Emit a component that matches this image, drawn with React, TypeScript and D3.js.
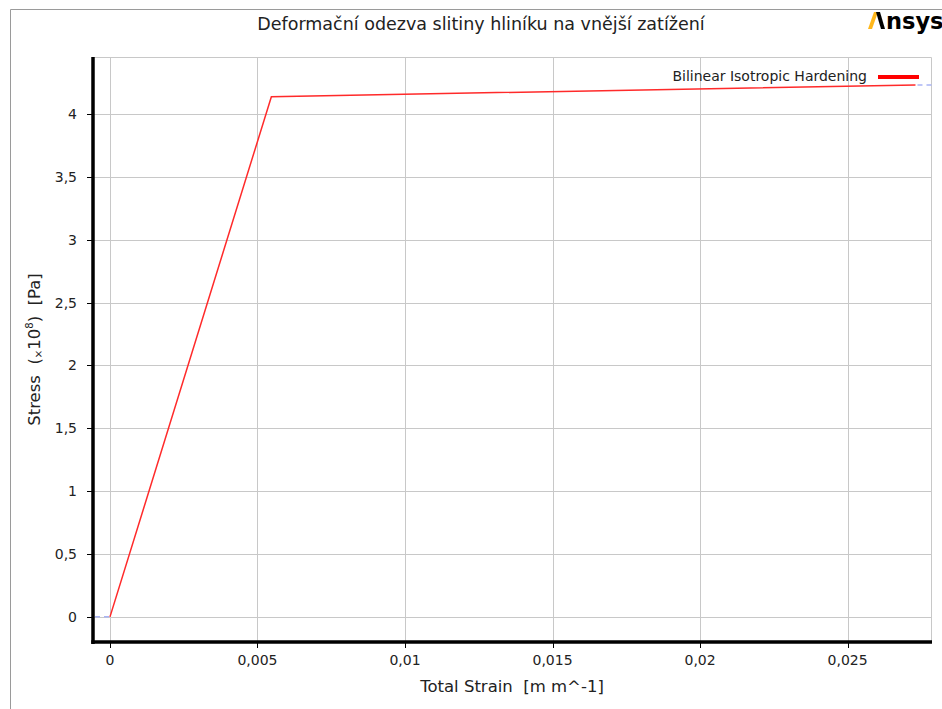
import { useEffect, useRef } from 'react'
import * as d3 from 'd3'

// stress-strain curve (stress in units of 1e8 Pa)
const strain = [0, 0.00547, 0.0273]
const stress = [0, 4.138, 4.232]

const xTicks = [0, 0.005, 0.01, 0.015, 0.02, 0.025]
const yTicks = [0, 0.5, 1, 1.5, 2, 2.5, 3, 3.5, 4]

const W = 942
const H = 709
const PLOT = { left: 93, right: 932, top: 57, bottom: 642 }
const FONT = 'DejaVu Sans, sans-serif'

const fmt = (v: number) => String(v).replace('.', ',')

export default function App() {
  const svgRef = useRef<SVGSVGElement>(null)

  useEffect(() => {
    const svg = d3.select(svgRef.current)
    svg.selectAll('*').remove()

    const x = d3.scaleLinear().domain([-0.000575, 0.02786]).range([PLOT.left, PLOT.right])
    const y = d3.scaleLinear().domain([-0.2, 4.454]).range([PLOT.bottom, PLOT.top])

    svg.append('rect').attr('width', W).attr('height', H).attr('fill', '#fff')

    // outer frame
    svg.append('path').attr('d', `M10.5,${H} V9.5 H${W}`).attr('fill', 'none').attr('stroke', '#9a9a9a')

    // title
    svg.append('text')
      .attr('x', 481).attr('y', 30)
      .attr('text-anchor', 'middle').attr('font-family', FONT).attr('font-size', 17.5).attr('fill', '#222')
      .text('Deformační odezva slitiny hliníku na vnější zatížení')

    // logo
    const logo = svg.append('g')
    logo.append('path').attr('d', 'M868,29 L874,12 L878,12 L872,29 Z').attr('fill', '#ffb71b')
    logo.append('path').attr('d', 'M876,12 L880,12 L885,29 L881,29 Z').attr('fill', '#000')
    logo.append('text')
      .attr('x', 886).attr('y', 29)
      .attr('font-family', FONT).attr('font-weight', 'bold').attr('font-size', 22.5).attr('fill', '#000')
      .text('nsys')

    // grid
    const grid = svg.append('g').attr('stroke', '#c8c8c8').attr('stroke-width', 1)
    xTicks.forEach(t => {
      grid.append('line').attr('x1', Math.round(x(t)) + 0.5).attr('x2', Math.round(x(t)) + 0.5)
        .attr('y1', PLOT.top).attr('y2', PLOT.bottom)
    })
    yTicks.forEach(t => {
      grid.append('line').attr('y1', Math.round(y(t)) + 0.5).attr('y2', Math.round(y(t)) + 0.5)
        .attr('x1', PLOT.left).attr('x2', PLOT.right)
    })
    grid.append('path').attr('fill', 'none')
      .attr('d', `M${PLOT.left},${PLOT.top + 0.5} H${PLOT.right - 0.5} V${PLOT.bottom}`)

    // extrapolation dashes
    const ext = svg.append('g').attr('stroke', '#a9b4f5').attr('stroke-width', 1.5).attr('stroke-dasharray', '5 4')
    ext.append('line').attr('x1', PLOT.left + 2).attr('x2', x(strain[0]))
      .attr('y1', y(stress[0])).attr('y2', y(stress[0]))
    const last = strain.length - 1
    ext.append('line').attr('x1', x(strain[last]) + 2).attr('x2', PLOT.right)
      .attr('y1', y(stress[last])).attr('y2', y(stress[last]))

    // curve
    const line = d3.line<number>().x((d, i) => x(strain[i])).y(d => y(d))
    svg.append('path').datum(stress)
      .attr('fill', 'none').attr('stroke', '#ff2a2a').attr('stroke-width', 1.5)
      .attr('d', line)

    // axes
    svg.append('line').attr('x1', PLOT.left).attr('x2', PLOT.left)
      .attr('y1', PLOT.top).attr('y2', PLOT.bottom + 2)
      .attr('stroke', '#000').attr('stroke-width', 3.5)
    svg.append('line').attr('x1', PLOT.left - 1.75).attr('x2', PLOT.right)
      .attr('y1', PLOT.bottom).attr('y2', PLOT.bottom)
      .attr('stroke', '#000').attr('stroke-width', 3.5)

    const ticks = svg.append('g').attr('stroke', '#000').attr('stroke-width', 1)
    yTicks.forEach(t => {
      ticks.append('line').attr('x1', PLOT.left - 6).attr('x2', PLOT.left)
        .attr('y1', Math.round(y(t)) + 0.5).attr('y2', Math.round(y(t)) + 0.5)
    })
    xTicks.forEach(t => {
      ticks.append('line').attr('y1', PLOT.bottom).attr('y2', PLOT.bottom + 6)
        .attr('x1', Math.round(x(t)) + 0.5).attr('x2', Math.round(x(t)) + 0.5)
    })

    const labels = svg.append('g').attr('font-family', FONT).attr('font-size', 14).attr('fill', '#222')
    yTicks.forEach(t => {
      labels.append('text').attr('x', 77).attr('y', y(t) + 5)
        .attr('text-anchor', 'end').text(fmt(t))
    })
    xTicks.forEach(t => {
      labels.append('text').attr('x', x(t)).attr('y', 665)
        .attr('text-anchor', 'middle').text(fmt(t))
    })

    // axis titles
    svg.append('text')
      .attr('x', 512).attr('y', 692)
      .attr('text-anchor', 'middle').attr('font-family', FONT).attr('font-size', 16.5).attr('fill', '#222')
      .attr('xml:space', 'preserve')
      .text('Total Strain  [m m^-1]')

    const yt = svg.append('text')
      .attr('transform', `translate(40,${(PLOT.top + PLOT.bottom) / 2}) rotate(-90)`)
      .attr('text-anchor', 'middle').attr('font-family', FONT).attr('font-size', 16.5).attr('fill', '#222')
      .attr('xml:space', 'preserve')
    yt.append('tspan').text('Stress  (')
    yt.append('tspan').attr('font-size', 10).attr('dy', 2).text('×')
    yt.append('tspan').attr('dy', -2).text('10')
    yt.append('tspan').attr('font-size', 10).attr('dy', -7).text('8')
    yt.append('tspan').attr('dy', 7).text(')  [Pa]')

    // legend
    svg.append('text')
      .attr('x', 867).attr('y', 81)
      .attr('text-anchor', 'end').attr('font-family', FONT).attr('font-size', 14).attr('fill', '#222')
      .text('Bilinear Isotropic Hardening')
    svg.append('line').attr('x1', 878).attr('x2', 919).attr('y1', 77).attr('y2', 77)
      .attr('stroke', '#f00').attr('stroke-width', 4)
  }, [])

  return (
    <svg ref={svgRef} width={W} height={H}
      style={{ position: 'absolute', left: 0, top: 0, display: 'block' }} />
  )
}
